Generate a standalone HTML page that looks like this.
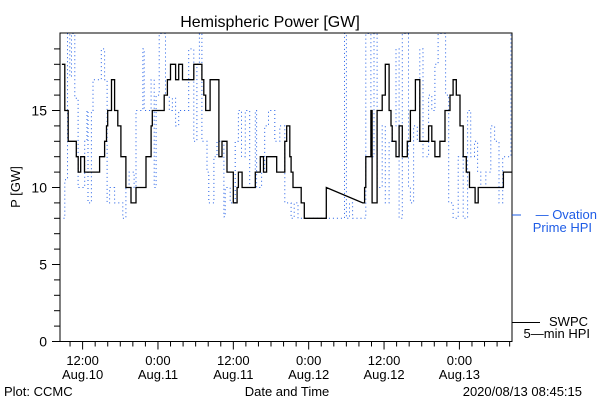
<!DOCTYPE html>
<html><head><meta charset="utf-8"><style>
body{margin:0;background:#fff;}
svg{display:block;font-family:"Liberation Sans",sans-serif;}
</style></head><body>
<svg id="chart" width="600" height="400" viewBox="0 0 600 400">
<text x="270" y="27" font-size="16" text-anchor="middle">Hemispheric Power [GW]</text>
<text x="0" y="0" font-size="13" text-anchor="middle" transform="translate(20,187) rotate(-90)">P [GW]</text>
<g id="plot"></g>
<g id="axes"></g>
<text x="597" y="219" font-size="13" fill="#1e5ce6" text-anchor="end">— Ovation</text>
<text x="592" y="232" font-size="13" fill="#1e5ce6" text-anchor="end">Prime HPI</text>
<line x1="512" y1="215" x2="521" y2="215" stroke="#1e5ce6" stroke-width="1"/>
<line x1="512" y1="322.5" x2="540" y2="322.5" stroke="#000" stroke-width="1"/>
<text x="588" y="326" font-size="13" text-anchor="end">SWPC</text>
<text x="590" y="338" font-size="13" text-anchor="end">5—min HPI</text>
<text x="4" y="396" font-size="13">Plot: CCMC</text>
<text x="287" y="396" font-size="13" text-anchor="middle">Date and Time</text>
<text x="582" y="396" font-size="13" text-anchor="end">2020/08/13 08:45:15</text>
</svg>
<script>
const swpcHours=[0,0.47,1.0,1.26,2.3,2.6,3.0,3.6,5.7,6.0,6.8,7.1,7.3,7.9,8.4,8.9,9.4,10.2,11.0,11.8,12.9,13.4,14.2,14.4,15.7,16.3,16.8,17.3,18.1,18.6,19.2,20.8,21.0,22.3,22.6,22.9,23.6,25.0,25.5,26.3,27.3,27.9,28.1,28.7,30.8,31.6,32.1,32.6,34.2,35.5,35.8,36.3,36.5,36.8,37.9,38.1,38.6,41.8,42.1,47.9,48.2,48.4,49.2,49.4,50.2,51.0,51.5,52.1,52.4,52.6,53.2,53.7,54.2,55.0,55.5,56.3,57.0,58.4,58.9,59.4,60.2,61.0,61.8,62.3,62.8,63.4,63.9,64.4,64.9,65.8,66.3,70.3,71.75];
const swpcValues=[18,15,13,13,12,11,12,11,11,12,13,14,15,17,15,14,12,10,9,10,10,12,14,15,15,16,17,18,17,18,17,17,18,17,16,15,17,12,13,11,9,10,11,10,11,12,11,12,11,13,14,12,11,10,10,9,8,8,10,9,10,12,15,9,15,16,18,15,14,13,12,14,12,13,15,17,13,14,13,12,13,15,16,17,16,14,12,11,10,9,10,11,11];
const ovationHours=[0.26,0.47,0.9,1.26,1.53,1.8,2.05,2.58,3.1,3.63,4.0,4.16,4.7,4.95,5.5,6.27,6.8,7.2,7.6,8.1,8.4,9.4,9.7,10.2,10.7,11.5,11.8,12.9,13.1,14.2,14.7,15.0,15.5,16.0,16.5,17.1,17.6,18.1,18.6,20.0,20.2,21.0,21.5,21.9,22.3,23.1,23.4,24.2,24.7,25.8,26.0,26.8,27.6,28.1,28.6,29.2,29.9,30.8,31.0,31.8,32.3,32.9,33.4,33.9,34.7,35.0,35.5,36.5,37.0,37.6,45.0,45.3,45.8,46.3,48.4,48.9,49.2,49.7,50.2,50.7,51.0,51.5,52.1,52.6,53.2,53.7,54.2,54.7,55.2,55.5,56.0,56.6,57.0,57.5,58.4,58.9,59.4,59.9,60.5,61.1,61.6,62.3,63.1,63.9,64.6,65.1,65.7,66.2,66.7,67.5,68.3,68.9,69.6,70.2,71.5];
const ovationValues=[8,10.5,20,17.2,20,20,15.8,10,10,13,15,9,15,17,17,19,17,9,10,10,9,9,8,10,11,10,15,19,15,17,10,16,20,20,16,15,15.8,14,15,15,19,13,18,20,13,11,9,12,13,8.1,10,9,13,15,12,15,10,15,10,11,14,15,15,13,14,14,9,8,9,8,20,8,9,8,20,20,12,20,10,10,14,9,13,14,19,8,20,20,10,9,14,13,19,12,16,15,18,20,20,16,9,8,12,8,15,12,13,11,10,11,14,13,9,12,20,20];
const yTickLabels=["0","5","10","15"];
const yTickValues=[0,5,10,15];
const xTickHours=[3.3,15.3,27.3,39.3,51.3,63.3];
const xTickLine1=["12:00","0:00","12:00","0:00","12:00","0:00"];
const xTickLine2=["Aug.10","Aug.11","Aug.11","Aug.12","Aug.12","Aug.13"];

const L=60,R=512,T=33,B=341.5,NS="http://www.w3.org/2000/svg";
const xs=h=>L+6.28*(h+0.3);
const ys=v=>B-15.4*v;
const plot=document.getElementById('plot'),axes=document.getElementById('axes');
function mk(tag,attrs,parent){const e=document.createElementNS(NS,tag);for(const k in attrs)e.setAttribute(k,attrs[k]);parent.appendChild(e);return e;}
const defs=mk('defs',{},plot);
const cp=mk('clipPath',{id:'clip'},defs);
mk('rect',{x:L,y:T,width:R-L,height:B-T},cp);
function stepPath(hs,vs){let d='M'+xs(hs[0]).toFixed(1)+','+ys(vs[0]).toFixed(1);
 for(let i=1;i<hs.length;i++){d+=' H'+xs(hs[i]).toFixed(1)+' V'+ys(vs[i]).toFixed(1);}return d;}
const ov=mk('path',{d:stepPath(ovationHours,ovationValues),fill:'none',stroke:'#1e5ce6','stroke-width':1,'stroke-dasharray':'1 3','clip-path':'url(#clip)'},plot);


let d='M'+xs(swpcHours[0]).toFixed(1)+','+ys(swpcValues[0]).toFixed(1);
for(let i=1;i<swpcHours.length;i++){
 if(swpcHours[i]-swpcHours[i-1]>4){d+=' L'+xs(swpcHours[i]).toFixed(1)+','+ys(swpcValues[i]).toFixed(1);}
 else d+=' H'+xs(swpcHours[i]).toFixed(1)+' V'+ys(swpcValues[i]).toFixed(1);}
const sw=mk('path',{d:d,fill:'none',stroke:'#000','stroke-width':1.3,'clip-path':'url(#clip)'},plot);


const fr=mk('rect',{x:L,y:T,width:R-L,height:B-T,fill:'none',stroke:'#000','stroke-width':1},axes);


for(let v=0;v<=19;v++){const t=mk('line',{x1:L-(v%5==0?8:6),x2:L,y1:ys(v),y2:ys(v),stroke:'#000'},axes);
 
 }
yTickValues.forEach((v,i)=>{const t=mk('text',{x:L-13,y:ys(v)+5,'font-size':14,'text-anchor':'end'},axes);t.textContent=yTickLabels[i];
 
 });
for(let h=-0.7;h<=72;h+=2){if(xs(h)<L||xs(h)>R)continue;const maj=xTickHours.some(m=>Math.abs(m-h)<0.1);
 const t=mk('line',{x1:xs(h),x2:xs(h),y1:B,y2:B+(maj?8:5),stroke:'#000'},axes);
 
 }
xTickHours.forEach((h,i)=>{const a=mk('text',{x:xs(h),y:365,'font-size':13,'text-anchor':'middle'},axes);a.textContent=xTickLine1[i];
 
 
 const b=mk('text',{x:xs(h),y:379,'font-size':13,'text-anchor':'middle'},axes);b.textContent=xTickLine2[i];
 
 });
</script>
</body></html>
